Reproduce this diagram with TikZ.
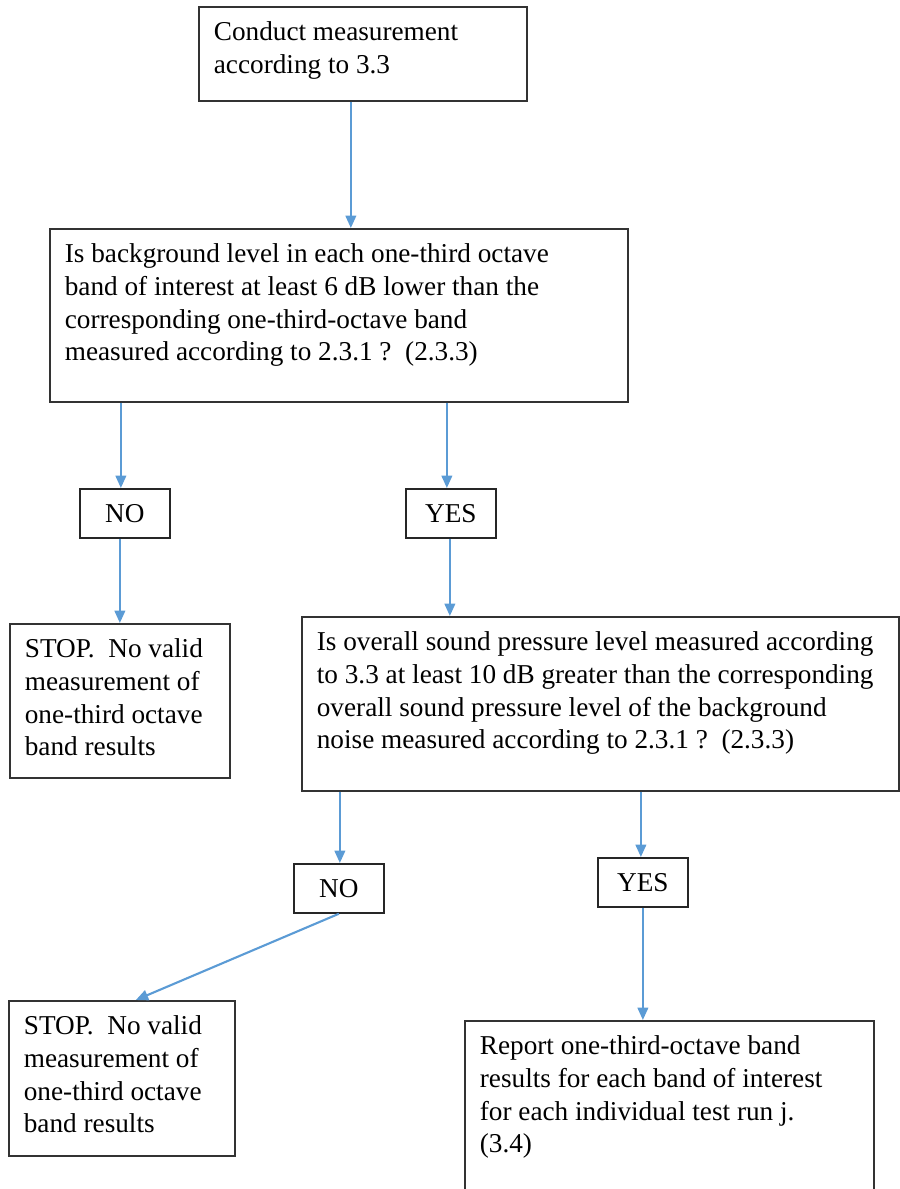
\documentclass[tikz,border=0pt]{standalone}
\usepackage{fontspec}
\setmainfont{Liberation Serif}
\usepackage{tikz}
\usetikzlibrary{arrows.meta}
\usetikzlibrary{calc}
\definecolor{flowblue}{RGB}{91,155,213}
\newcommand{\boxtext}[3]{\parbox[t][#2][t]{#1}{\raggedright #3}}

\begin{document}
\begin{tikzpicture}[x=0.02cm, y=-0.02cm,
  box/.style={draw=black!80, line width=1pt, anchor=north west, inner xsep=0.3cm, inner ysep=0.3cm, font=\fontsize{15.5pt}{18.6pt}\selectfont},
  tag/.style={draw=black!85, line width=1pt, anchor=north west, minimum width=1.8cm, minimum height=0.98cm, inner sep=0pt, font=\fontsize{15.5pt}{18.6pt}\selectfont},
  flow/.style={draw=flowblue, line width=1.2pt, -{Triangle[width=6pt,length=7pt]}}]
\useasboundingbox (0,0) rectangle (899,1189);

  \node[box] (measure) at (198,6) {\boxtext{5.96cm}{1.28cm}{Conduct measurement\\according to 3.3}};
  \node[box] (bgcheck) at (49,228) {\boxtext{10.96cm}{2.86cm}{Is background level in each one-third octave\\band of interest at least 6 dB lower than the\\corresponding one-third-octave band\\measured according to 2.3.1 ?\ \ (2.3.3)}};

\node[tag] (no1) at (79,488) {NO};
\node[tag] (yes1) at (405,488) {YES};

  \node[box] (stop1) at (9,623) {\boxtext{3.8cm}{2.48cm}{STOP.\ \ No valid\\measurement of\\one-third octave\\band results}};
  \node[box] (splcheck) at (301,616) {\boxtext{11.34cm}{2.88cm}{Is overall sound pressure level measured according\\to 3.3 at least 10 dB greater than the corresponding\\overall sound pressure level of the background\\noise measured according to 2.3.1 ?\ \ (2.3.3)}};

\node[tag] (no2) at (293,863) {NO};
\node[tag] (yes2) at (597,857) {YES};

  \node[box] (stop2) at (8,1000) {\boxtext{3.92cm}{2.5cm}{STOP.\ \ No valid\\measurement of\\one-third octave\\band results}};
  \node[box] (report) at (464,1020) {\boxtext{7.58cm}{3.4cm}{Report one-third-octave band\\results for each band of interest\\for each individual test run j.\\(3.4)}};

% arrows
\draw[flow] ([xshift=-0.24cm]measure.south) -- ([xshift=-0.24cm]measure.south |- bgcheck.north);
\draw[flow] ([xshift=-0.08cm]no1.north |- bgcheck.south) -- ([xshift=-0.08cm]no1.north);
\draw[flow] ([xshift=-0.08cm]yes1.north |- bgcheck.south) -- ([xshift=-0.08cm]yes1.north);
\draw[flow] ([xshift=-0.1cm]no1.south) -- ([xshift=-0.1cm]no1.south |- stop1.north);
\draw[flow] ([xshift=-0.02cm]yes1.south) -- ([xshift=-0.02cm]yes1.south |- splcheck.north);
\draw[flow] ([xshift=0.02cm]no2.north |- splcheck.south) -- ([xshift=0.02cm]no2.north);
\draw[flow] ([xshift=-0.04cm]yes2.north |- splcheck.south) -- ([xshift=-0.04cm]yes2.north);
\draw[flow] (no2.south) -- ([xshift=0.28cm]stop2.north);
\draw[flow] (yes2.south) -- (yes2.south |- report.north);

\end{tikzpicture}
\end{document}
